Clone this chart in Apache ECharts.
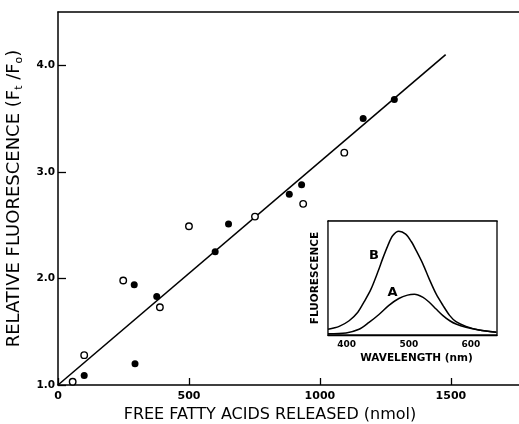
<!DOCTYPE html>
<html>
<head>
<meta charset="utf-8">
<script src="https://cdn.jsdelivr.net/npm/echarts@6/dist/echarts.min.js"></script>
<style>html,body{margin:0;padding:0;background:#fff}#c{width:519px;height:424px}</style>
</head>
<body>
<div id="c"></div>
<script>
// Main plot data
const xTicks = [0, 500, 1000, 1500];
const yTicks = [1, 2, 3, 4];
const filledPts = [[100,1.09],[291,1.94],[294,1.20],[377,1.83],[600,2.25],[651,2.51],[883,2.79],[930,2.88],[1165,3.50],[1284,3.68]];
const openPts = [[56,1.03],[100,1.28],[249,1.98],[389,1.73],[500,2.49],[752,2.58],[936,2.70],[1093,3.18]];
const fitLine = [[0,1.0],[1480,4.1]];
// Inset data
const insetTicks = [400, 500, 600];
const curveB = [[378,0.05],[396,0.076],[412,0.125],[426,0.20],[436,0.29],[447,0.40],[458,0.55],[466,0.67],[474,0.78],[482,0.87],[492,0.91],[503,0.885],[512,0.82],[520,0.74],[531,0.62],[541,0.49],[552,0.36],[563,0.26],[574,0.17],[584,0.117],[600,0.076],[621,0.044],[649,0.024]];
const curveA = [[378,0.01],[407,0.018],[428,0.05],[444,0.11],[460,0.18],[476,0.26],[492,0.32],[506,0.35],[517,0.357],[531,0.33],[541,0.287],[552,0.228],[563,0.17],[574,0.125],[584,0.096],[600,0.068],[621,0.044],[649,0.024]];
const curveLabels = [{name:'B', value:[452,0.695]},{name:'A', value:[482,0.375]}];

const F = 'DejaVu Sans';
const chart = echarts.init(document.getElementById('c'), null, {renderer:'canvas'});
chart.setOption({
  backgroundColor:'#fff',
  animation:false,
  grid:[
    {left:58, top:12, right:0, bottom:39, containLabel:false, outerBoundsMode:'none'},
    {left:328, top:221, width:169, height:114, containLabel:false, outerBoundsMode:'none', show:true, borderColor:'#000', borderWidth:1.3, backgroundColor:'#fff', z:5}
  ],
  xAxis:[
    {gridIndex:0, type:'value', min:0, max:1760, interval:500,
     axisLine:{show:true, lineStyle:{color:'#000', width:1.5}},
     axisTick:{show:true, inside:true, length:7, customValues:xTicks, lineStyle:{color:'#000', width:1.3}},
     axisLabel:{customValues:xTicks, color:'#000', fontFamily:F, fontSize:11, fontWeight:'bold', margin:6, formatter:v=>String(v)},
     splitLine:{show:false},
     name:'FREE FATTY ACIDS RELEASED (nmol)', nameLocation:'middle', nameGap:20,
     nameTextStyle:{color:'#000', fontFamily:F, fontSize:16, padding:[0,37,0,0]}},
    {gridIndex:0, type:'value', position:'top', min:0, max:1760,
     axisLine:{show:true, lineStyle:{color:'#000', width:1.5}}, axisTick:{show:false}, axisLabel:{show:false}, splitLine:{show:false}},
    {gridIndex:1, type:'value', min:378, max:650,
     axisLine:{show:true, lineStyle:{color:'#000', width:1.3}},
     axisTick:{show:true, inside:true, length:4, customValues:insetTicks, lineStyle:{color:'#000'}},
     axisLabel:{customValues:insetTicks, color:'#000', fontFamily:F, fontSize:9, fontWeight:'bold', margin:5, padding:[0,0,0,10]},
     splitLine:{show:false},
     name:'WAVELENGTH (nm)', nameLocation:'middle', nameGap:18,
     nameTextStyle:{color:'#000', fontFamily:F, fontSize:10.5, fontWeight:'bold', padding:[0,0,0,8]}},
    {gridIndex:1, type:'value', position:'top', min:378, max:650,
     axisLine:{show:true, lineStyle:{color:'#000', width:1.3}},
     axisTick:{show:true, inside:true, length:4, customValues:insetTicks, lineStyle:{color:'#000'}},
     axisLabel:{show:false}, splitLine:{show:false}}
  ],
  yAxis:[
    {gridIndex:0, type:'value', min:1, max:4.5, interval:1,
     axisLine:{show:true, lineStyle:{color:'#000', width:1.5}},
     axisTick:{show:true, inside:true, length:8, customValues:yTicks, lineStyle:{color:'#000', width:1.3}},
     axisLabel:{customValues:yTicks, color:'#000', fontFamily:F, fontSize:10.5, fontWeight:'bold', margin:3, formatter:v=>v.toFixed(1)},
     splitLine:{show:false},
     name:'RELATIVE FLUORESCENCE (F{s|t} /F{s|o})', nameLocation:'middle', nameGap:33,
     nameTextStyle:{color:'#000', fontFamily:F, fontSize:18, rich:{s:{fontFamily:F, fontSize:11, color:'#000', padding:[10,0,0,0]}}}},
    {gridIndex:1, type:'value', min:0, max:1,
     axisLine:{show:true, lineStyle:{color:'#000', width:1.3}}, axisTick:{show:false}, axisLabel:{show:false}, splitLine:{show:false},
     name:'FLUORESCENCE', nameLocation:'middle', nameGap:7,
     nameTextStyle:{color:'#000', fontFamily:F, fontSize:10.5, fontWeight:'bold'}}
  ],
  series:[
    {type:'line', xAxisIndex:0, yAxisIndex:0, data:fitLine, symbol:'none', lineStyle:{color:'#000', width:1.6}, z:2},
    {type:'scatter', xAxisIndex:0, yAxisIndex:0, data:filledPts, symbol:'circle', symbolSize:7, itemStyle:{color:'#000', opacity:1}, z:3},
    {type:'scatter', xAxisIndex:0, yAxisIndex:0, data:openPts, symbol:'circle', symbolSize:6.5, itemStyle:{color:'#fff', borderColor:'#000', borderWidth:1.4, opacity:1}, z:3},
    {type:'line', xAxisIndex:2, yAxisIndex:1, data:curveB, smooth:0.3, symbol:'none', lineStyle:{color:'#000', width:1.5}, z:6},
    {type:'line', xAxisIndex:2, yAxisIndex:1, data:curveA, smooth:0.3, symbol:'none', lineStyle:{color:'#000', width:1.5}, z:6},
    {type:'scatter', xAxisIndex:2, yAxisIndex:1, data:curveLabels, symbolSize:0, z:7, itemStyle:{opacity:1},
     label:{show:true, position:'inside', formatter:p=>p.name, color:'#000', fontFamily:F, fontSize:13, fontWeight:'bold'}}
  ]
});
</script>
</body>
</html>
